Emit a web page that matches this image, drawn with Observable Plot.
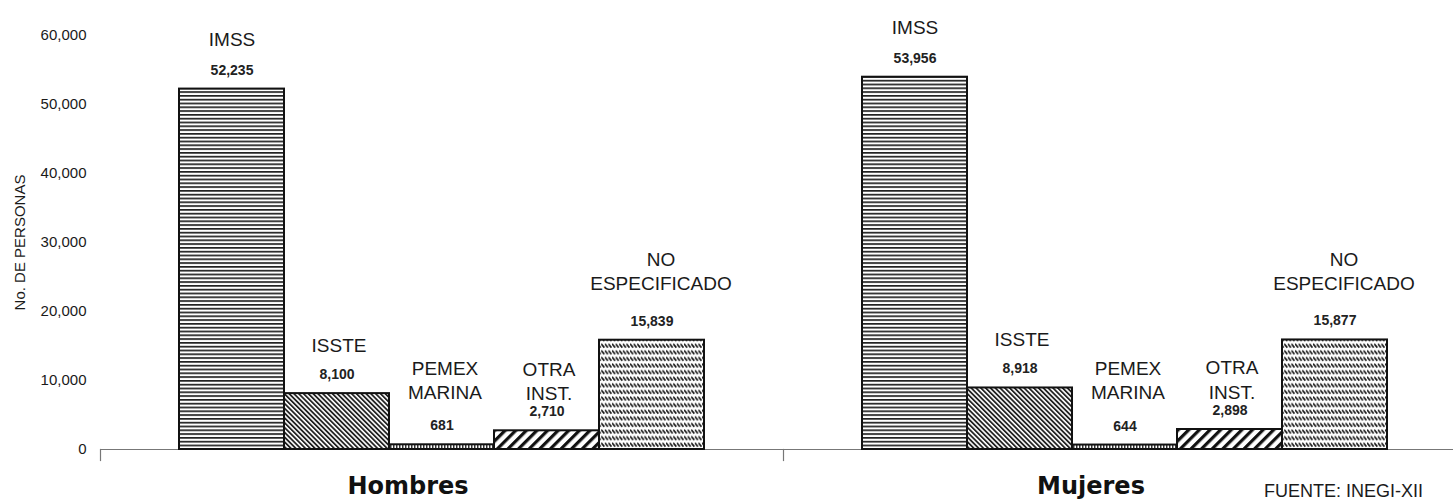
<!DOCTYPE html>
<html>
<head>
<meta charset="utf-8">
<script src="https://cdn.jsdelivr.net/npm/d3@7"></script>
<script src="https://cdn.jsdelivr.net/npm/@observablehq/plot@0.6"></script>
<style>
  html, body { margin: 0; padding: 0; background: #fff; overflow: hidden; }
  #wrap { width: 1453px; height: 501px; overflow: hidden; position: relative; }
  #wrap svg { max-width: none !important; }
</style>
</head>
<body>
<svg width="0" height="0" style="position:absolute">
  <defs>
    <pattern id="p-imss" patternUnits="userSpaceOnUse" width="6" height="3.8">
      <rect width="6" height="3.8" fill="#fff"/>
      <rect y="0" width="6" height="1.7" fill="#222"/>
    </pattern>
    <pattern id="p-isste" patternUnits="userSpaceOnUse" width="3.4" height="3.4" patternTransform="rotate(-45)">
      <rect width="3.4" height="3.4" fill="#fff"/>
      <rect x="0" width="1.8" height="3.4" fill="#222"/>
    </pattern>
    <pattern id="p-pemex" patternUnits="userSpaceOnUse" width="3" height="3">
      <rect width="3" height="3" fill="#fff"/>
      <rect x="0" width="1.5" height="3" fill="#333"/>
    </pattern>
    <pattern id="p-otra" patternUnits="userSpaceOnUse" width="7.5" height="7.5" patternTransform="rotate(45)">
      <rect width="7.5" height="7.5" fill="#fff"/>
      <rect x="0" width="3.2" height="7.5" fill="#111"/>
    </pattern>
    <pattern id="p-noesp" patternUnits="userSpaceOnUse" width="3.6" height="6.6">
      <rect width="3.6" height="6.6" fill="#fff"/>
      <path d="M0,0.6 L3,4.4" stroke="#1a1a1a" stroke-width="1.6"/>
    </pattern>
  </defs>
</svg>
<div id="wrap"></div>
<script>
// ---- data ----
const genders = ["Hombres", "Mujeres"];
const categories = ["IMSS", "ISSTE", "PEMEX MARINA", "OTRA INST.", "NO ESPECIFICADO"];
const hombres = [52235, 8100, 681, 2710, 15839];
const mujeres = [53956, 8918, 644, 2898, 15877];
const yTicks = [0, 10000, 20000, 30000, 40000, 50000, 60000];
const yLabel = "No. DE PERSONAS";
const source = "FUENTE: INEGI-XII";

// ---- table ----
const rows = [];
categories.forEach((c, i) => {
  rows.push({gender: genders[0], inst: c, value: hombres[i]});
  rows.push({gender: genders[1], inst: c, value: mujeres[i]});
});

const patterns = ["url(#p-imss)", "url(#p-isste)", "url(#p-pemex)", "url(#p-otra)", "url(#p-noesp)"];
// label placement (pixels above bar top, baseline of last line)
const nameDy = {"IMSS": -43, "ISSTE": -42, "PEMEX MARINA": -46, "OTRA INST.": -31, "NO ESPECIFICADO": -50};
const nameDx = {"IMSS": 0, "ISSTE": 2, "PEMEX MARINA": 3, "OTRA INST.": 2, "NO ESPECIFICADO": 9};
const fmt = d3.format(",");

const chart = Plot.plot({
  width: 1466,
  height: 501,
  marginTop: 35,
  marginBottom: 52,
  marginLeft: 100,
  marginRight: 0,
  style: {fontFamily: "'Liberation Sans', Arial, sans-serif", fontSize: "15px", color: "#1a1a1a", background: "#fff", maxWidth: "none"},
  fx: {domain: genders, padding: 0, axis: null},
  x: {domain: categories, paddingInner: 0, paddingOuter: 0.734, axis: null},
  y: {
    domain: [0, 60000],
    ticks: yTicks,
    tickFormat: fmt,
    tickSize: 0,
    tickPadding: 14,
    label: yLabel,
    labelAnchor: "center",
    labelArrow: "none",
    labelOffset: 86
  },
  color: {type: "ordinal", domain: categories, range: patterns},
  marks: [
    Plot.ruleY([0], {stroke: "#777", strokeWidth: 1.2}),
    Plot.frame({anchor: "left", stroke: "#777", strokeWidth: 1.2, insetTop: 414, insetBottom: -11}),
    Plot.barY(rows, {fx: "gender", x: "inst", y: "value", fill: "inst", stroke: "#111", strokeWidth: 2}),
    Plot.text(rows, {fx: "gender", x: "inst", y: "value", text: d => fmt(d.value), dy: -19, lineAnchor: "middle", fontSize: 14, fontWeight: "bold", fill: "#222"}),
    ...categories.map(c => Plot.text(rows.filter(d => d.inst === c), {
      fx: "gender", x: "inst", y: "value",
      text: d => d.inst.replace(" ", "\n"),
      lineAnchor: "bottom", lineHeight: 1.27,
      dy: nameDy[c], dx: nameDx[c],
      fontSize: 19, fill: "#1a1a1a"
    })),
    Plot.text(genders, {fx: d => d, text: d => d, frameAnchor: "bottom", dy: 44, dx: -34,
      fontSize: 24, fontWeight: "bold", fontFamily: "'DejaVu Sans', sans-serif", fill: "#111"}),
    Plot.text([source], {fx: () => genders[1], x: () => categories[4], y: () => 0, text: d => d,
      textAnchor: "start", dx: -71, dy: 42, fontSize: 18, fill: "#1a1a1a"})
  ]
});
chart.style.maxWidth = "none";
document.getElementById("wrap").appendChild(chart);
</script>
</body>
</html>
